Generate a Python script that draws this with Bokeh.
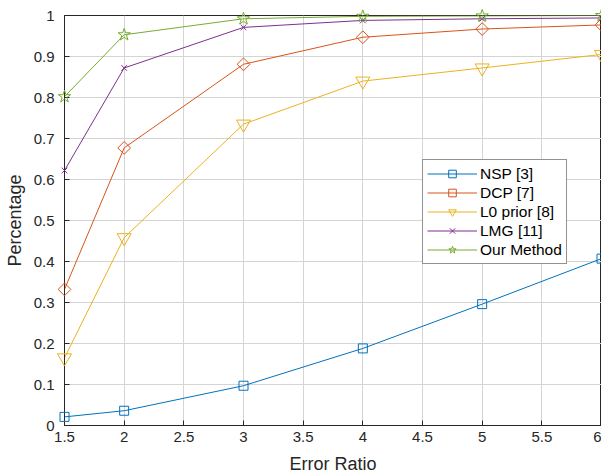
import math
from bokeh.plotting import figure
from bokeh.models import (ColumnDataSource, Legend, LegendItem, FixedTicker, Range1d)
from bokeh.embed import file_html
from bokeh.resources import INLINE

# ---- data ----
error_ratio = [1.5, 2, 3, 4, 5, 6]
nsp = [0.021, 0.036, 0.097, 0.188, 0.296, 0.407]
dcp = [0.332, 0.677, 0.881, 0.947, 0.967, 0.977]
l0_prior = [0.165, 0.458, 0.735, 0.840, 0.872, 0.905]
lmg = [0.622, 0.872, 0.971, 0.988, 0.992, 0.994]
our_method = [0.802, 0.953, 0.992, 0.998, 0.999, 1.0]

x_ticks = [1.5, 2, 2.5, 3, 3.5, 4, 4.5, 5, 5.5, 6]
x_tick_labels = ["1.5", "2", "2.5", "3", "3.5", "4", "4.5", "5", "5.5", "6"]
y_ticks = [0, 0.1, 0.2, 0.3, 0.4, 0.5, 0.6, 0.7, 0.8, 0.9, 1]
y_tick_labels = ["0", "0.1", "0.2", "0.3", "0.4", "0.5", "0.6", "0.7", "0.8", "0.9", "1"]

series = [
    ("NSP [3]", nsp, "#0072BD", "square", 9, 0.0),
    ("DCP [7]", dcp, "#D95319", "square", 9, math.pi / 4),
    ("L0 prior [8]", l0_prior, "#EDB120", "inverted_triangle", 14, 0.0),
    ("LMG [11]", lmg, "#7E2F8E", "x", 8, 0.0),
    ("Our Method", our_method, "#77AC30", "star", 13, 0.0),
]

FONT = "Liberation Sans"
TXT = "#262626"

p = figure(width=601, height=476, output_backend="svg", toolbar_location=None,
           x_range=Range1d(1.5, 6), y_range=Range1d(0, 1),
           min_border_left=64, min_border_right=0, min_border_top=15, min_border_bottom=51)
p.outline_line_color = TXT
p.outline_line_width = 1

items = []
for label, vals, color, marker, size, ang in series:
    src = ColumnDataSource(dict(x=error_ratio, y=vals))
    ln = p.line("x", "y", source=src, line_color=color, line_width=1)
    sc = p.scatter("x", "y", source=src, marker=marker, size=size, angle=ang,
                   line_color=color, fill_color=None, line_width=1, level="overlay")
    items.append(LegendItem(label=label, renderers=[ln, sc]))

for ax in (p.xaxis[0], p.yaxis[0]):
    ax.major_tick_in = 5
    ax.major_tick_out = 0
    ax.minor_tick_in = 0
    ax.minor_tick_out = 0
    ax.axis_line_color = TXT
    ax.major_tick_line_color = TXT
    ax.major_label_text_font = FONT
    ax.major_label_text_font_size = "15px"
    ax.major_label_text_color = TXT
    ax.axis_label_text_font = FONT
    ax.axis_label_text_font_size = "18px"
    ax.axis_label_text_font_style = "normal"
    ax.axis_label_text_color = TXT

p.xaxis[0].ticker = FixedTicker(ticks=x_ticks)
p.xaxis[0].major_label_overrides = dict(zip(x_ticks, x_tick_labels))
p.yaxis[0].ticker = FixedTicker(ticks=y_ticks)
p.yaxis[0].major_label_overrides = dict(zip(y_ticks, y_tick_labels))
p.xaxis[0].axis_label = "Error Ratio"
p.yaxis[0].axis_label = "Percentage"
p.xaxis[0].major_label_standoff = 6
p.xaxis[0].axis_label_standoff = 9
p.yaxis[0].major_label_standoff = 10
p.yaxis[0].axis_label_standoff = 6

p.xgrid.ticker = FixedTicker(ticks=x_ticks)
p.ygrid.ticker = FixedTicker(ticks=y_ticks)
for g in (p.xgrid[0], p.ygrid[0]):
    g.grid_line_color = "#d4d4d4"
    g.grid_line_width = 1

legend = Legend(items=items, location=(358, 161))
legend.label_text_font = FONT
legend.label_text_font_size = "15.5px"
legend.label_text_color = "#000000"
legend.glyph_width = 50
legend.glyph_height = 19
legend.label_height = 19
legend.label_standoff = 3
legend.spacing = 0
legend.padding = 4
legend.margin = 0
legend.border_line_color = TXT
legend.border_line_width = 1
legend.background_fill_color = "white"
legend.background_fill_alpha = 1
p.add_layout(legend, "center")

open("out.html", "w").write(file_html(p, INLINE))
